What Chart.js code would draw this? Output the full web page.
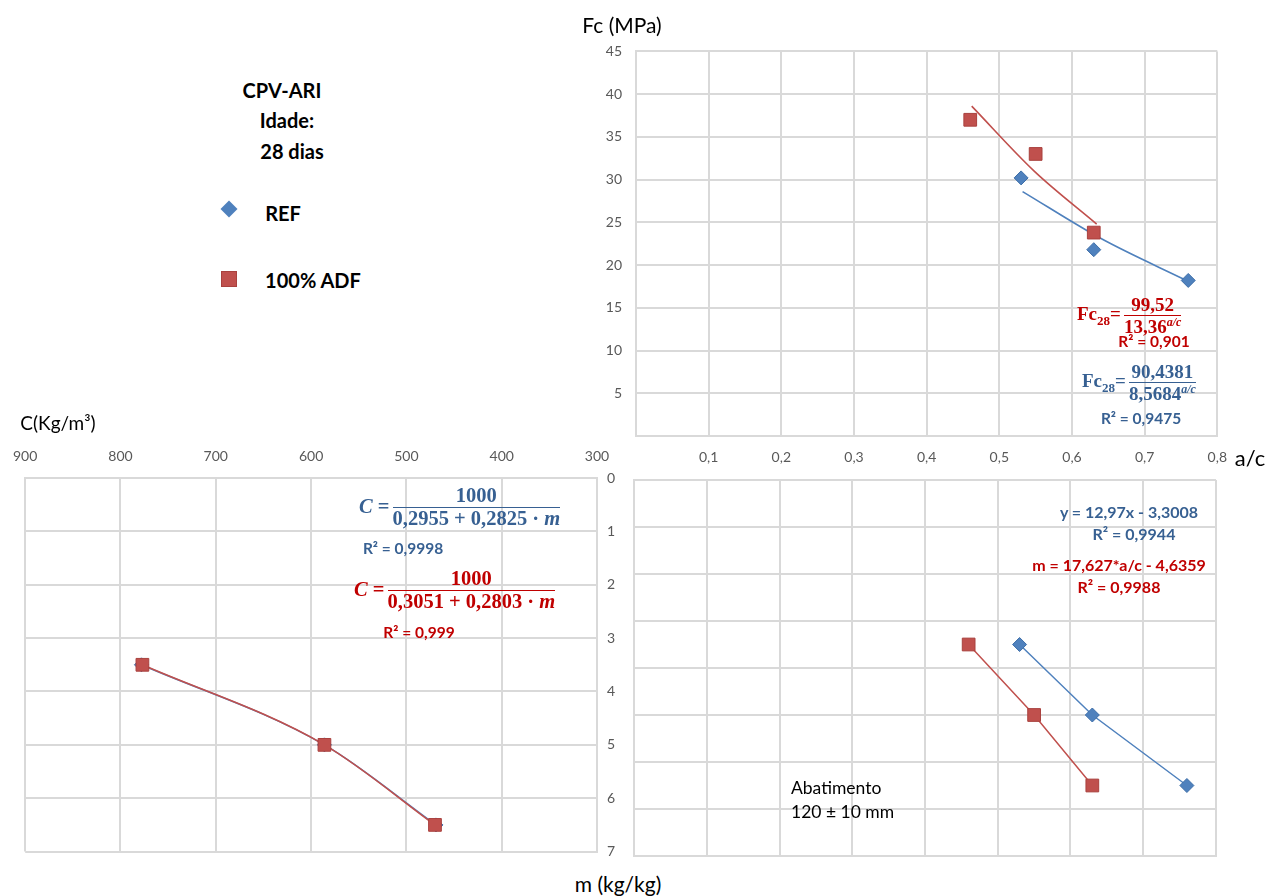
<!DOCTYPE html>
<html>
<head>
<meta charset="utf-8">
<script src="https://cdn.jsdelivr.net/npm/chart.js@4.4.1/dist/chart.umd.min.js"></script>
<style>
  body { margin: 0; background: #fff; width: 1270px; height: 896px; position: relative; overflow: hidden; font-family: Lato, "Open Sans", sans-serif; }
  canvas { position: absolute; }
  .t { position: absolute; white-space: nowrap; transform: translate(-50%, -50%); }
  .b { font-weight: bold; }
  .eq { position: absolute; display: flex; align-items: center; white-space: nowrap; font-family: "Liberation Serif", serif; font-weight: bold; line-height: 1.05; }
  .frac { display: inline-flex; flex-direction: column; align-items: center; margin-left: 3px; }
  .frac .num { border-bottom: 1.5px solid currentColor; width: 100%; text-align: center; }
  .red { color: #c00000; }
  .blue { color: #376092; }
</style>
</head>
<body>
<canvas id="fc" width="670" height="451" style="left:570px;top:29px;width:670px;height:451px"></canvas>
<canvas id="cm" width="640" height="440" style="left:0px;top:430px;width:640px;height:440px"></canvas>
<canvas id="mac" width="620" height="400" style="left:620px;top:470px;width:620px;height:400px"></canvas>

<!-- title and legend -->
<div class="t b" style="left:282px;top:90px;font-size:20px">CPV-ARI</div>
<div class="t b" style="left:287px;top:120px;font-size:20px">Idade:</div>
<div class="t b" style="left:292px;top:151px;font-size:20px">28 dias</div>
<div style="position:absolute;left:223px;top:203px;width:12px;height:12px;background:#4f81bd;transform:rotate(45deg)"></div>
<div class="t b" style="left:283px;top:213px;font-size:20px">REF</div>
<div style="position:absolute;left:221px;top:271px;width:16px;height:16px;background:#c0504d;border:1px solid #a9413e;box-sizing:border-box"></div>
<div class="t b" style="left:313px;top:280px;font-size:20px">100% ADF</div>

<!-- axis titles -->
<div class="t" style="left:622px;top:24px;font-size:21px">Fc (MPa)</div>
<div class="t" style="left:1250px;top:457px;font-size:22px">a/c</div>
<div class="t" style="left:58px;top:422px;font-size:19px">C(Kg/m³)</div>
<div class="t" style="left:618px;top:883px;font-size:21px">m (kg/kg)</div>

<!-- equations top right -->
<div class="eq red" style="left:1077px;top:295px;font-size:19px">
  <span>Fc<sub style="font-size:13px">28</sub>=</span>
  <span class="frac"><span class="num">99,52</span><span>13,36<sup style="font-size:12px"><i>a/c</i></sup></span></span>
</div>
<div class="t b red" style="left:1154px;top:341px;font-size:15.5px">R² = 0,901</div>
<div class="eq blue" style="left:1082px;top:362px;font-size:19px">
  <span>Fc<sub style="font-size:13px">28</sub>=</span>
  <span class="frac"><span class="num">90,4381</span><span>8,5684<sup style="font-size:12px"><i>a/c</i></sup></span></span>
</div>
<div class="t b blue" style="left:1141px;top:418px;font-size:15.5px">R² = 0,9475</div>

<!-- equations bottom left -->
<div class="eq blue" style="left:359px;top:485px;font-size:20.5px">
  <span><i>C</i> = </span>
  <span class="frac"><span class="num">1000</span><span>0,2955 + 0,2825 · <i>m</i></span></span>
</div>
<div class="t b blue" style="left:403px;top:548px;font-size:15.5px">R² = 0,9998</div>
<div class="eq red" style="left:354px;top:568px;font-size:20.5px">
  <span><i>C</i> = </span>
  <span class="frac"><span class="num">1000</span><span>0,3051 + 0,2803 · <i>m</i></span></span>
</div>
<div class="t b red" style="left:419px;top:632px;font-size:15.5px">R² = 0,999</div>

<!-- equations bottom right -->
<div class="t b blue" style="left:1129px;top:511px;font-size:16px">y = 12,97x - 3,3008</div>
<div class="t b blue" style="left:1134px;top:533px;font-size:16px">R² = 0,9944</div>
<div class="t b red" style="left:1119px;top:564px;font-size:16px">m = 17,627*a/c - 4,6359</div>
<div class="t b red" style="left:1119px;top:586px;font-size:16px">R² = 0,9988</div>
<div style="position:absolute;left:791px;top:776px;font-size:17.5px;line-height:24px">Abatimento<br>120 ± 10 mm</div>

<script>
// measured points (REF = blue diamonds, 100% ADF = red squares)
const acRef = [0.53, 0.63, 0.76];
const acAdf = [0.46, 0.55, 0.63];
const fcRef = [30.2, 21.8, 18.2];
const fcAdf = [37.0, 33.0, 23.8];
const mRef = [3.5, 5.0, 6.5];
const mAdf = [3.5, 5.0, 6.5];
const cRef = [778, 586, 469];
const cAdf = [777, 586, 470];

// trend curves in the Fc x a/c quadrant
const trendAcRef = [0.532, 0.64, 0.76];
const trendFcRef = [28.6, 23.1, 18.1];
const trendAcAdf = [0.462, 0.548, 0.634];
const trendFcAdf = [38.6, 31.0, 24.8];

const blue = '#4f81bd';
const red = '#c0504d';
const grid = '#d9d9d9';
const tickFont = { family: 'Lato', size: 14 };
const tickColor = '#595959';

const pts = (xs, ys) => xs.map((x, i) => ({ x, y: ys[i] }));
const comma = v => String(v).replace('.', ',');

function pointSet(data, col, style, r, line) {
  return {
    data,
    pointStyle: style,
    pointRadius: r,
    pointHoverRadius: r,
    backgroundColor: col,
    pointBorderColor: style === 'rect' ? '#a9413e' : '#3d6ea8',
    pointBorderWidth: 1,
    borderColor: col,
    borderWidth: 1.5,
    showLine: !!line,
    order: 0
  };
}
function lineSet(data, col, order) {
  return {
    data,
    borderColor: col,
    borderWidth: 1.6,
    pointRadius: 0,
    showLine: true,
    cubicInterpolationMode: 'monotone',
    order: order || 1
  };
}

const baseOpts = {
  responsive: false,
  animation: false,
  events: [],
  plugins: { legend: { display: false }, tooltip: { enabled: false } }
};

// Fc x a/c
new Chart(document.getElementById('fc'), {
  type: 'scatter',
  data: {
    datasets: [
      pointSet(pts(acRef, fcRef), blue, 'rectRot', 7),
      pointSet(pts(acAdf, fcAdf), red, 'rect', 9),
      lineSet(pts(trendAcRef, trendFcRef), blue),
      lineSet(pts(trendAcAdf, trendFcAdf), red)
    ]
  },
  options: {
    ...baseOpts,
    layout: { padding: { top: 0, right: 22, left: 0, bottom: 0 } },
    scales: {
      x: {
        type: 'linear', min: 0, max: 0.8,
        grid: { color: grid, lineWidth: 2, drawTicks: false },
        border: { color: grid, width: 2 },
        ticks: { stepSize: 0.1, padding: 13, font: tickFont, color: tickColor, maxRotation: 0,
          callback: v => (Math.abs(v) < 1e-9 ? '' : comma(v.toFixed(1))) },
        afterFit: s => { s.height = 44; }
      },
      y: {
        type: 'linear', min: 0, max: 45,
        grid: { color: grid, lineWidth: 2, drawTicks: false },
        border: { color: grid, width: 2 },
        ticks: { stepSize: 5, padding: 14, font: tickFont, color: tickColor,
          callback: v => (v === 0 ? '' : v) },
        afterFit: s => { s.width = 66; }
      }
    }
  }
});

// C x m
new Chart(document.getElementById('cm'), {
  type: 'scatter',
  data: {
    datasets: [
      pointSet(pts(cAdf, mAdf), red, 'rect', 9),
      pointSet(pts(cRef, mRef), blue, 'rectRot', 7),
      lineSet(pts(cAdf, mAdf), red, 1),
      lineSet(pts(cRef, mRef), blue, 2)
    ]
  },
  options: {
    ...baseOpts,
    layout: { padding: { top: 0, right: 0, left: 22, bottom: 18 } },
    scales: {
      x: {
        type: 'linear', position: 'top', min: 300, max: 900, reverse: true,
        grid: { color: grid, lineWidth: 2, drawTicks: false },
        border: { color: grid, width: 2 },
        ticks: { stepSize: 100, padding: 13, font: tickFont, color: tickColor, maxRotation: 0 },
        afterFit: s => { s.height = 48; }
      },
      y: {
        type: 'linear', position: 'right', min: 0, max: 7, reverse: true,
        grid: { color: grid, lineWidth: 2, drawTicks: false },
        border: { color: grid, width: 2 },
        ticks: { stepSize: 1, padding: 10, font: tickFont, color: tickColor },
        afterFit: s => { s.width = 43; }
      }
    }
  }
});

// m x a/c
new Chart(document.getElementById('mac'), {
  type: 'scatter',
  data: {
    datasets: [
      pointSet(pts(acRef, mRef), blue, 'rectRot', 7, true),
      pointSet(pts(acAdf, mAdf), red, 'rect', 9, true)
    ]
  },
  options: {
    ...baseOpts,
    layout: { padding: { top: 9, right: 24, left: 14, bottom: 14 } },
    scales: {
      x: {
        type: 'linear', min: 0, max: 0.8,
        grid: { color: grid, lineWidth: 2, drawTicks: false },
        border: { color: grid, width: 2 },
        ticks: { display: false, stepSize: 0.1 },
        afterFit: s => { s.height = 0; }
      },
      y: {
        type: 'linear', min: 0, max: 8, reverse: true,
        grid: { color: grid, lineWidth: 2, drawTicks: false },
        border: { color: grid, width: 2 },
        ticks: { display: false, stepSize: 1 },
        afterFit: s => { s.width = 0; }
      }
    }
  }
});
</script>
</body>
</html>
